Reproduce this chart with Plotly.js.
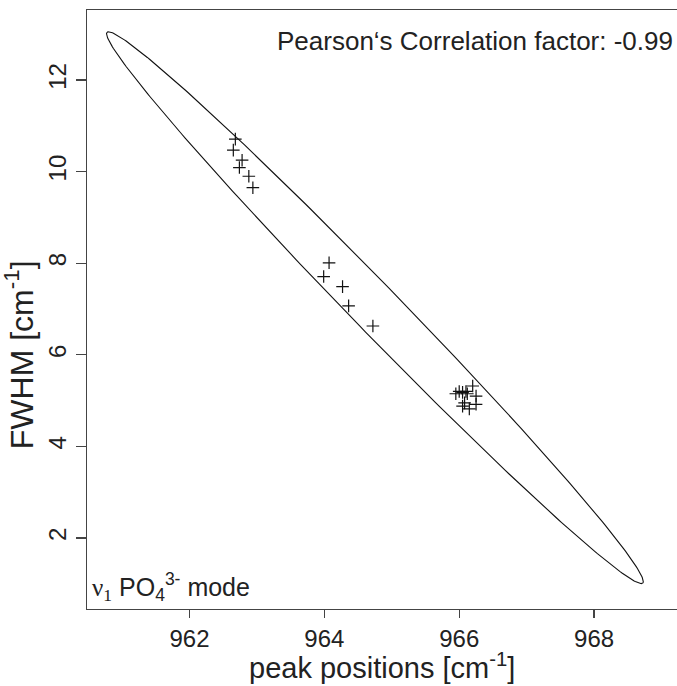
<!DOCTYPE html>
<html>
<head>
<meta charset="utf-8">
<script src="https://cdn.plot.ly/plotly-3.0.1.min.js"></script>
<style>html,body{margin:0;padding:0;background:#fff}#plot{width:677px;height:686px}</style>
</head>
<body>
<div id="plot"></div>
<script>
// measured peak positions (cm^-1) and FWHM (cm^-1)
const peakPositions = [962.68, 962.65, 962.78, 962.74, 962.88, 962.94,
  964.07, 963.99, 964.27, 964.36, 964.72,
  965.95, 966.00, 966.05, 966.10, 966.20, 966.25, 966.08, 966.25, 966.15, 966.05, 966.12];
const fwhmValues = [10.71, 10.47, 10.25, 10.09, 9.90, 9.65,
  8.01, 7.71, 7.49, 7.07, 6.63,
  5.15, 5.20, 5.18, 5.20, 5.32, 5.10, 4.95, 4.92, 4.82, 4.88, 5.15];
// confidence ellipse: centre, half major vector, vertical conjugate half-length
const ellipseCenter = [964.75, 7.03];
const ellipseMajor = [3.98, -5.98];
const ellipseConj = [0, 0.741];
const xTicks = [962, 964, 966, 968];
const yTicks = [2, 4, 6, 8, 10, 12];
const xTitle = 'peak positions [cm<sup>-1</sup>]';
const yTitle = 'FWHM [cm<sup>-1</sup>]';
const pearsonText = "Pearson\u2018s Correlation factor: -0.99";

const ex = [], ey = [];
for (let i = 0; i <= 360; i++) {
  const t = i * Math.PI / 180;
  ex.push(ellipseCenter[0] + ellipseMajor[0] * Math.cos(t) + ellipseConj[0] * Math.sin(t));
  ey.push(ellipseCenter[1] + ellipseMajor[1] * Math.cos(t) + ellipseConj[1] * Math.sin(t));
}

const font = 'Liberation Sans, Arial, sans-serif';
const traces = [
  {x: ex, y: ey, mode: 'lines', line: {color: '#111', width: 1.1}, hoverinfo: 'skip', showlegend: false},
  {x: peakPositions, y: fwhmValues, mode: 'markers', showlegend: false,
   marker: {symbol: 'cross-thin-open', size: 9, line: {color: '#111', width: 1.2}, color: '#111'}}
];

const axisCommon = {
  showgrid: false, zeroline: false, showline: true,
  linecolor: '#444', linewidth: 1.3, ticks: 'outside', ticklen: 8, tickwidth: 1.3, tickcolor: '#444',
  tickfont: {family: font, size: 24, color: '#222'}
};

const layout = {
  width: 677, height: 686,
  margin: {l: 87, r: 0, t: 10, b: 77},
  paper_bgcolor: '#fff', plot_bgcolor: '#fff',
  xaxis: Object.assign({}, axisCommon, {
    mirror: true,
    range: [960.48, 969.23], tickvals: xTicks, ticktext: xTicks.map(String)
  }),
  yaxis: Object.assign({}, axisCommon, {
    mirror: false, ticklen: 10,
    range: [0.45, 13.53], tickvals: yTicks, ticktext: yTicks.map(String), tickangle: -90
  }),
  annotations: [
    {xref: 'paper', yref: 'paper', x: 1, y: 0.948, xanchor: 'right', yanchor: 'middle', xshift: -2,
     showarrow: false, text: pearsonText, font: {family: font, size: 26, color: '#222'}},
    {xref: 'paper', yref: 'paper', x: 0, y: 0, xanchor: 'left', yanchor: 'bottom', xshift: 3, yshift: 2,
     showarrow: false,
     text: '<span style="font-family:Liberation Serif, Times New Roman, serif">\u03bd<sub>1</sub></span> PO<sub>4</sub><sup>3-</sup> mode',
     font: {family: font, size: 25, color: '#222'}},
    {xref: 'paper', yref: 'paper', x: 0.5, y: -0.095, xanchor: 'center', yanchor: 'middle',
     showarrow: false, text: xTitle, font: {family: font, size: 29, color: '#222'}},
    {xref: 'paper', yref: 'paper', x: -0.115, y: 0.424, xanchor: 'center', yanchor: 'middle', textangle: -90,
     showarrow: false, text: yTitle, font: {family: font, size: 32, color: '#222'}}
  ]
};

Plotly.newPlot('plot', traces, layout, {displayModeBar: false, staticPlot: true});
</script>
</body>
</html>
